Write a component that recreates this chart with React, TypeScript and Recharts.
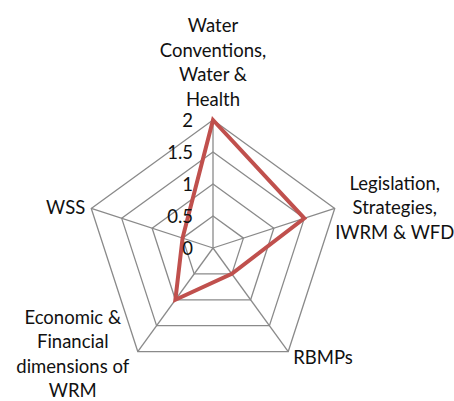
import React from "react";
import { RadarChart, Radar, PolarGrid, PolarAngleAxis, PolarRadiusAxis } from "recharts";

const categories = [
  "Water Conventions, Water & Health",
  "Legislation, Strategies, IWRM & WFD",
  "RBMPs",
  "Economic & Financial dimensions of WRM",
  "WSS",
];
const categoryLines: string[][] = [
  ["Water", "Conventions,", "Water &", "Health"],
  ["Legislation,", "Strategies,", "IWRM & WFD"],
  ["RBMPs"],
  ["Economic &", "Financial", "dimensions of", "WRM"],
  ["WSS"],
];
const seriesValues = [2, 1.5, 0.5, 1, 0.5];
const radiusTicks = [0, 0.5, 1, 1.5, 2];
const radiusTickLabels = ["0", "0.5", "1", "1.5", "2"];

const data = categories.map((c, i) => ({ category: c, value: seriesValues[i] }));

const FONT = "Lato, 'Open Sans', sans-serif";
const FS = 18.5;
const LH = 24.5;
const TICK_GAP = 8;

const labelLayout = [
  { dx: 0, firstDy: -95, anchor: "middle" },
  { dx: 60, firstDy: -25.5, anchor: "middle" },
  { dx: 5, firstDy: 5, anchor: "start" },
  { dx: -65, firstDy: -35, anchor: "middle" },
  { dx: -6, firstDy: -1, anchor: "end" },
];

const AngleTick = (props: any) => {
  const { x, y, index } = props;
  const theta = ((90 - 72 * index) * Math.PI) / 180;
  const vx = x - TICK_GAP * Math.cos(theta);
  const vy = y + TICK_GAP * Math.sin(theta);
  const lines = categoryLines[index] || [String(props.payload?.value)];
  const l = labelLayout[index];
  return (
    <g>
      {lines.map((t, k) => (
        <text
          key={k}
          x={vx + l.dx}
          y={vy + l.firstDy + k * LH}
          textAnchor={l.anchor}
          dominantBaseline="central"
          fontFamily={FONT}
          fontSize={FS}
          fill="#111"
        >
          {t}
        </text>
      ))}
    </g>
  );
};

const RadiusTick = (props: any) => {
  const { x, y, payload, index } = props;
  const idx = radiusTicks.indexOf(payload?.value);
  const label = idx >= 0 ? radiusTickLabels[idx] : String(payload?.value);
  return (
    <text
      x={x - 20}
      y={y}
      textAnchor="end"
      dominantBaseline="central"
      fontFamily={FONT}
      fontSize={FS}
      fill="#111"
      key={index}
    >
      {label}
    </text>
  );
};

export default function App() {
  return (
    <div style={{ position: "absolute", left: 0, top: 0, width: 454, height: 401, background: "#fff" }}>
      <RadarChart
        width={454}
        height={401}
        data={data}
        cx={213}
        cy={248}
        outerRadius={128}
        margin={{ top: 0, right: 0, bottom: 0, left: 0 }}
      >
        <PolarGrid gridType="polygon" stroke="#8a8a8a" strokeWidth={1.3} />
        <PolarAngleAxis
          dataKey="category"
          tick={<AngleTick />}
          tickLine={false}
          axisLine={false}
        />
        <PolarRadiusAxis
          angle={90}
          domain={[0, 2]}
          ticks={radiusTicks}
          tickCount={5}
          axisLine={false}
          tick={<RadiusTick />}
          tickLine={false}
        />
        <Radar
          dataKey="value"
          stroke="#C0504D"
          strokeWidth={4}
          fill="none"
          fillOpacity={0}
          dot={false}
          isAnimationActive={false}
        />
      </RadarChart>
    </div>
  );
}
